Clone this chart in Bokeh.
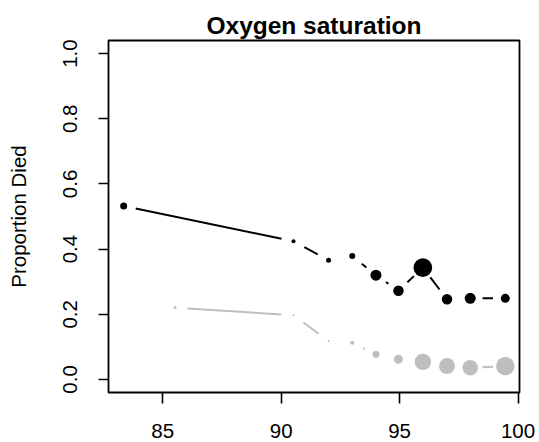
import math
from bokeh.plotting import figure
from bokeh.models import Range1d, FixedTicker
from bokeh.embed import file_html
from bokeh.resources import INLINE

# ---- data ----
black_x = [83.35, 90.52, 92.0, 93.0, 94.0, 94.95, 95.98, 97.0, 97.98, 99.46]
black_y = [0.532, 0.424, 0.366, 0.379, 0.320, 0.272, 0.343, 0.246, 0.249, 0.249]
black_n = [49, 16, 25, 36, 121, 110, 350, 110, 121, 81]

gray_x = [85.52, 90.52, 92.0, 93.0, 94.0, 94.95, 95.98, 97.0, 97.98, 99.46]
gray_y = [0.2205, 0.197, 0.118, 0.113, 0.077, 0.062, 0.054, 0.041, 0.036, 0.041]
gray_n = [9, 4, 4, 16, 49, 81, 270, 256, 240, 340]

x_ticks = [85, 90, 95, 100]
y_ticks = [0.0, 0.2, 0.4, 0.6, 0.8, 1.0]
y_tick_labels = ["0.0", "0.2", "0.4", "0.6", "0.8", "1.0"]

XMIN, XMAX = 82.71, 100.06
YMIN, YMAX = -0.04, 1.04
FW, FH = 411, 352
FONT = "Liberation Sans"

p = figure(frame_width=FW, frame_height=FH,
           x_range=Range1d(XMIN, XMAX), y_range=Range1d(YMIN, YMAX),
           output_backend="svg", toolbar_location=None,
           min_border_left=108, min_border_right=20,
           min_border_top=40, min_border_bottom=50)

p.xgrid.visible = False
p.ygrid.visible = False
p.background_fill_color = "white"
p.border_fill_color = "white"
p.outline_line_color = "black"
p.outline_line_width = 1.8

p.title.text = "Oxygen saturation"
p.title.align = "center"
p.title.text_font = FONT
p.title.text_font_size = "24.5px"
p.title.text_font_style = "bold"
p.title.text_color = "black"
p.title.standoff = 3

# axes
p.xaxis.ticker = FixedTicker(ticks=x_ticks)
p.yaxis.ticker = FixedTicker(ticks=y_ticks)
p.yaxis.major_label_overrides = {t: l for t, l in zip(y_ticks, y_tick_labels)}
p.yaxis.major_label_orientation = "vertical"
for ax in (p.xaxis, p.yaxis):
    ax.axis_line_color = None
    ax.major_tick_in = 0
    ax.minor_tick_line_color = None
    ax.major_tick_line_color = "black"
    ax.major_tick_line_width = 1.6
    ax.major_label_text_font = FONT
    ax.major_label_text_font_size = "20.5px"
    ax.major_label_text_color = "black"
    ax.axis_label_text_font = FONT
    ax.axis_label_text_font_size = "20.5px"
    ax.axis_label_text_font_style = "normal"
    ax.axis_label_text_color = "black"
p.xaxis.major_tick_out = 11
p.xaxis.major_label_standoff = 20
p.yaxis.major_tick_out = 10
p.yaxis.major_label_standoff = 21
p.yaxis.axis_label = "Proportion Died"
p.yaxis.axis_label_standoff = 31

sx = FW / (XMAX - XMIN)
sy = FH / (YMAX - YMIN)
GAP = 12.3  # px gap around each point (type="b" style)


def gapped(xs, ys):
    x0s, y0s, x1s, y1s = [], [], [], []
    for i in range(len(xs) - 1):
        dxp = (xs[i + 1] - xs[i]) * sx
        dyp = (ys[i + 1] - ys[i]) * sy
        d = math.hypot(dxp, dyp)
        if d > 2 * GAP:
            f = GAP / d
            x0s.append(xs[i] + (xs[i + 1] - xs[i]) * f)
            y0s.append(ys[i] + (ys[i + 1] - ys[i]) * f)
            x1s.append(xs[i + 1] - (xs[i + 1] - xs[i]) * f)
            y1s.append(ys[i + 1] - (ys[i + 1] - ys[i]) * f)
    return x0s, y0s, x1s, y1s


for xs, ys, ns, col in ((gray_x, gray_y, gray_n, "#BEBEBE"),
                        (black_x, black_y, black_n, "black")):
    x0, y0, x1, y1 = gapped(xs, ys)
    p.segment(x0=x0, y0=y0, x1=x1, y1=y1, line_color=col, line_width=2)
    sizes = [math.sqrt(n) for n in ns]
    p.scatter(x=xs, y=ys, size=sizes, marker="circle",
              fill_color=col, line_color=None)

open("out.html", "w").write(file_html(p, INLINE))
